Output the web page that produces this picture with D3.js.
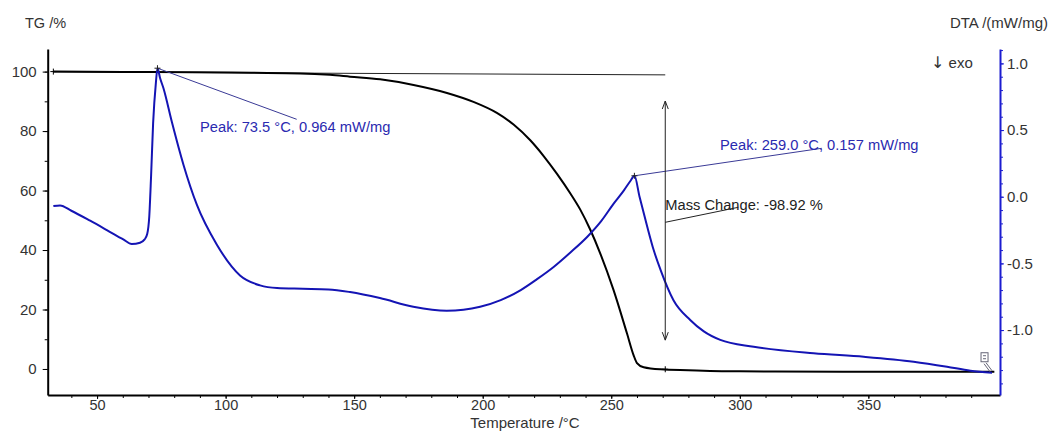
<!DOCTYPE html>
<html>
<head>
<meta charset="utf-8">
<script src="https://cdn.jsdelivr.net/npm/d3@7"></script>
<style>
  body { margin: 0; background: #fff; }
  text { font-family: "Liberation Sans", Arial, sans-serif; }
</style>
</head>
<body>
<div id="chart"></div>
<script>
// TG curve (temperature in °C, mass in %)
let tgTemp = [33, 60, 90, 110, 129, 140.6, 148.4, 160.1, 173.1, 186.1, 196.4, 205.5, 212.0, 218.5, 223.7, 228.9, 234.1, 238.0, 241.8, 245.7, 250.9, 256.1, 258.7, 260.0, 262.6, 269.2, 280, 300, 340, 399];
let tgMass = [100.0, 99.9, 99.8, 99.6, 99.4, 98.9, 98.3, 97.4, 95.5, 92.8, 89.8, 86.1, 82.2, 76.9, 71.6, 65.6, 59.0, 53.5, 46.9, 38.9, 26.5, 12.0, 4.6, 2.0, 0.6, -0.1, -0.4, -0.8, -0.9, -0.9];

// DTA curve (temperature in °C, mW/mg)
let dtaTemp = [33.0, 35.6, 40, 47.3, 53.8, 60.2, 63.5, 66.7, 68.5, 69.5, 70.3, 71.0, 71.8, 72.9, 73.5, 74.5, 75.8, 79.1, 83.6, 88.8, 96.6, 105.6, 113.4, 120, 130, 140, 148.4, 160, 173, 186, 199, 207, 214.8, 221, 227.7, 234, 240.7, 246, 251, 255, 257.5, 259, 261, 264, 266.5, 269.2, 274.2, 280.7, 286, 292.4, 305.4, 328.7, 348.2, 367.6, 380.6, 389.7, 398.1];
let dtaValue = [-0.070, -0.065, -0.105, -0.18, -0.25, -0.32, -0.355, -0.345, -0.32, -0.28, -0.15, 0.15, 0.55, 0.86, 0.964, 0.89, 0.815, 0.56, 0.24, -0.06, -0.36, -0.59, -0.665, -0.685, -0.69, -0.695, -0.715, -0.76, -0.825, -0.855, -0.825, -0.775, -0.70, -0.62, -0.525, -0.42, -0.30, -0.185, -0.05, 0.05, 0.12, 0.157, 0.0, -0.225, -0.40, -0.55, -0.776, -0.924, -1.01, -1.074, -1.125, -1.174, -1.20, -1.237, -1.275, -1.305, -1.32];

// axis ticks
let tempTicks = [50, 100, 150, 200, 250, 300, 350];
let tgTicks = [0, 20, 40, 60, 80, 100];
let dtaTicks = [-1.0, -0.5, 0.0, 0.5, 1.0];

// annotations
let peakTemps = [73.5, 259.0];
let peakValues = [0.964, 0.157];
let peakLabels = ["Peak: 73.5 °C, 0.964 mW/mg", "Peak: 259.0 °C, 0.157 mW/mg"];
let massChangeLabel = "Mass Change: -98.92 %";
let massChangeTemp = 271;
let massChangeRange = [90.1, 9.7];
let baselineTemps = [33, 271];
let baselineMass = [99.9, 98.9];

function cross(svg, x, y, color) {
  svg.append("path").attr("d", `M${x - 3},${y}H${x + 3}M${x},${y - 3}V${y + 3}`)
    .attr("stroke", color).attr("stroke-width", 1);
}

function drawChart() {
  let width = 1054, height = 432;
  let left = 47.7, right = 1000, top = 49, bottom = 395;
  let blue = "#1414b4";
  let axisBlue = "#1c1cd0";

  let svg = d3.select("#chart").append("svg")
    .attr("width", width)
    .attr("height", height);

  let xScale = d3.scaleLinear().domain([30.8, 401.2]).range([left, right]);
  let tgScale = d3.scaleLinear().domain([-8.75, 107.6]).range([bottom, top]);
  let dtaScale = d3.scaleLinear().domain([-1.487, 1.108]).range([bottom, top]);

  // minor ticks
  svg.append("g")
    .attr("transform", "translate(0," + bottom + ")")
    .call(d3.axisBottom(xScale).tickValues(d3.range(40, 400, 10)).tickSize(3).tickFormat(""))
    .call(g => g.select(".domain").remove());
  svg.append("g")
    .attr("transform", "translate(" + left + ",0)")
    .call(d3.axisLeft(tgScale).tickValues(d3.range(0, 110, 10)).tickSize(3).tickFormat(""))
    .call(g => g.select(".domain").remove());
  svg.append("g")
    .attr("transform", "translate(" + right + ",0)")
    .call(d3.axisRight(dtaScale).tickValues(d3.range(-14, 12, 1).map(v => v / 10)).tickSize(3).tickFormat(""))
    .call(g => g.select(".domain").remove())
    .selectAll("line").attr("stroke", axisBlue);

  // major axes
  let xAxis = svg.append("g")
    .attr("transform", "translate(0," + bottom + ")")
    .call(d3.axisBottom(xScale).tickValues(tempTicks).tickSize(4).tickSizeOuter(0).tickPadding(1));
  let yAxis = svg.append("g")
    .attr("transform", "translate(" + left + ",0)")
    .call(d3.axisLeft(tgScale).tickValues(tgTicks).tickSize(5).tickSizeOuter(0).tickPadding(6));
  let y2Axis = svg.append("g")
    .attr("transform", "translate(" + right + ",0)")
    .call(d3.axisRight(dtaScale).tickValues(dtaTicks).tickSize(4).tickSizeOuter(0).tickPadding(3));

  xAxis.select(".domain").attr("stroke", "#000").attr("stroke-width", 2);
  xAxis.selectAll("text").attr("font-size", 14.5).attr("fill", "#333");
  yAxis.select(".domain").attr("stroke", "#000").attr("stroke-width", 2);
  yAxis.selectAll("text").attr("font-size", 15).attr("fill", "#333");
  y2Axis.select(".domain").attr("stroke", axisBlue).attr("stroke-width", 2);
  y2Axis.selectAll("line").attr("stroke", axisBlue);
  y2Axis.selectAll("text").attr("font-size", 15).attr("fill", "#333")
    .text(d => d3.format(".1f")(d).replace("−", "-"));

  // axis titles
  svg.append("text").attr("x", 25).attr("y", 28).attr("font-size", 14.5).attr("fill", "#333").text("TG /%");
  svg.append("text").attr("x", 1048).attr("y", 28).attr("text-anchor", "end").attr("font-size", 15).attr("fill", "#333").text("DTA /(mW/mg)");
  let exo = svg.append("text").attr("x", 931).attr("y", 68).attr("font-size", 15).attr("fill", "#333");
  exo.append("tspan").attr("font-family", "DejaVu Sans").attr("font-size", 16).text("↓");
  exo.append("tspan").text(" exo");
  svg.append("text").attr("x", 525).attr("y", 428).attr("text-anchor", "middle").attr("font-size", 15).attr("fill", "#333").text("Temperature /°C");

  // mass change baseline
  svg.append("line")
    .attr("x1", xScale(baselineTemps[0])).attr("y1", tgScale(baselineMass[0]))
    .attr("x2", xScale(baselineTemps[1])).attr("y2", tgScale(baselineMass[1]))
    .attr("stroke", "#222").attr("stroke-width", 1);

  // TG curve
  let tgLine = d3.line()
    .x(d => xScale(d[0]))
    .y(d => tgScale(d[1]))
    .curve(d3.curveMonotoneX);
  svg.append("path")
    .attr("fill", "none")
    .attr("stroke", "#000")
    .attr("stroke-width", 2)
    .attr("d", tgLine(tgTemp.map((t, i) => [t, tgMass[i]])));

  // DTA curve
  let dtaLine = d3.line()
    .x(d => xScale(d[0]))
    .y(d => dtaScale(d[1]))
    .curve(d3.curveMonotoneX);
  svg.append("path")
    .attr("fill", "none")
    .attr("stroke", blue)
    .attr("stroke-width", 2)
    .attr("d", dtaLine(dtaTemp.map((t, i) => [t, dtaValue[i]])));

  // small markers on TG curve
  cross(svg, xScale(tgTemp[0]), tgScale(tgMass[0]), "#000");
  cross(svg, xScale(massChangeTemp), tgScale(-0.1), "#000");

  // end-of-curve icon
  let ex = xScale(dtaTemp[dtaTemp.length - 1]), ey = dtaScale(dtaValue[dtaValue.length - 1]);
  svg.append("rect").attr("x", ex - 11).attr("y", ey - 20).attr("width", 7).attr("height", 9)
    .attr("fill", "#fff").attr("stroke", "#667").attr("stroke-width", 1);
  svg.append("path").attr("d", `M${ex - 9},${ey - 17}H${ex - 6}M${ex - 9},${ey - 14}H${ex - 6}M${ex - 6},${ey - 10}L${ex},${ey - 2}M${ex - 8},${ey - 9}L${ex - 2},${ey - 1}`)
    .attr("stroke", "#667").attr("stroke-width", 1).attr("fill", "none");

  // peak annotations
  let labelPos = [[200, 132, 296.7, 119.3], [720, 149.5, 821.7, 148.3]];
  peakTemps.forEach((t, i) => {
    let px = xScale(t), py = dtaScale(peakValues[i]);
    svg.append("line")
      .attr("x1", px).attr("y1", py)
      .attr("x2", labelPos[i][2]).attr("y2", labelPos[i][3])
      .attr("stroke", "#3a3a96").attr("stroke-width", 1);
    cross(svg, px, py, "#222");
    svg.append("text")
      .attr("x", labelPos[i][0]).attr("y", labelPos[i][1])
      .attr("font-size", 14.7)
      .attr("fill", "#2a2ab0")
      .text(peakLabels[i]);
  });

  // mass change arrow
  let mx = xScale(massChangeTemp);
  let yTop = tgScale(massChangeRange[0]), yBot = tgScale(massChangeRange[1]);
  svg.append("line").attr("x1", mx).attr("x2", mx).attr("y1", yTop).attr("y2", yBot)
    .attr("stroke", "#222").attr("stroke-width", 1);
  svg.append("path")
    .attr("d", `M${mx - 3},${yTop + 8}L${mx},${yTop}L${mx + 3},${yTop + 8}M${mx - 3},${yBot - 8}L${mx},${yBot}L${mx + 3},${yBot - 8}`)
    .attr("fill", "none").attr("stroke", "#222").attr("stroke-width", 1);
  svg.append("line").attr("x1", mx).attr("y1", 222.3).attr("x2", 738.3).attr("y2", 207.3)
    .attr("stroke", "#222").attr("stroke-width", 1);
  svg.append("text").attr("x", mx).attr("y", 210)
    .attr("font-size", 14.7).attr("fill", "#222")
    .text(massChangeLabel);
}

drawChart();
</script>
</body>
</html>
